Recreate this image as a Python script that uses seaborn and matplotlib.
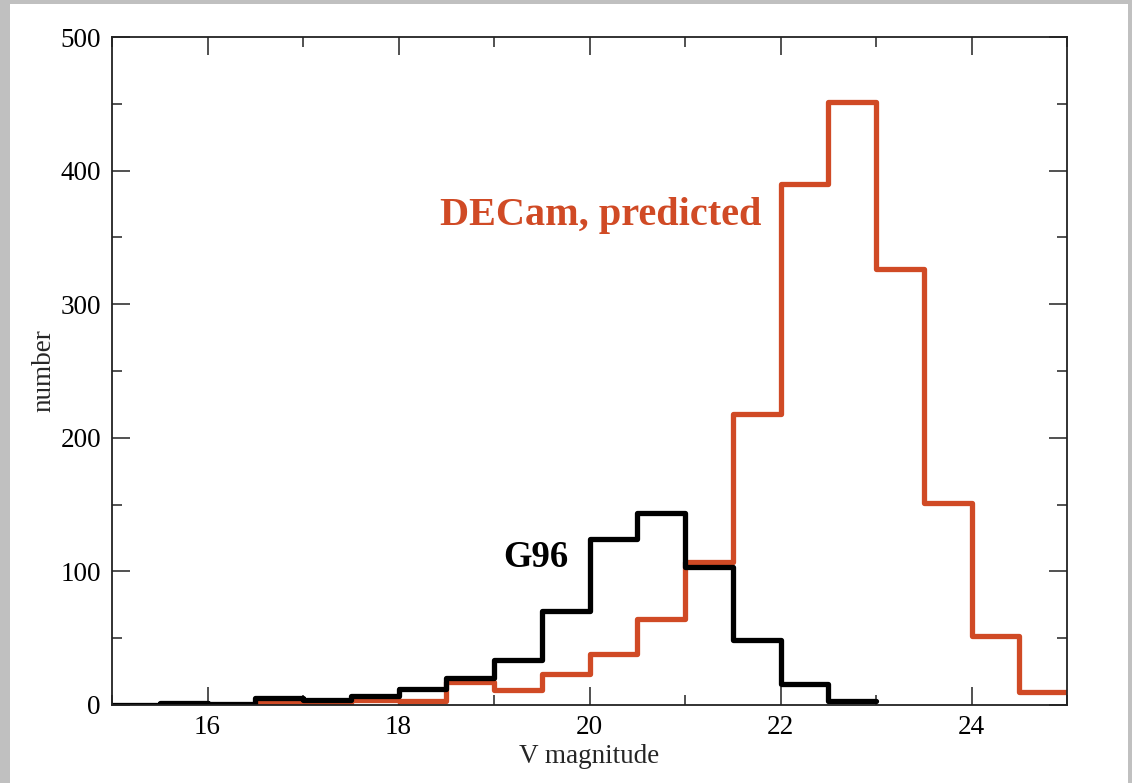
import numpy as np
import pandas as pd
import matplotlib
matplotlib.use("Agg")
import matplotlib.pyplot as plt
import seaborn as sns
from matplotlib.patches import Rectangle
from matplotlib.ticker import MultipleLocator

# --- data: counts per 0.5 mag bin ---
g96_edges = [15.0, 15.5, 16.0, 16.5, 17.0, 17.5, 18.0, 18.5, 19.0, 19.5,
             20.0, 20.5, 21.0, 21.5, 22.0, 22.5, 23.0]
g96_counts = [0, 1.5, 1, 5, 3.5, 7, 12, 20, 34, 70, 124, 144, 103, 49, 16, 3]

decam_edges = [16.0, 16.5, 17.0, 17.5, 18.0, 18.5, 19.0, 19.5, 20.0, 20.5,
               21.0, 21.5, 22.0, 22.5, 23.0, 23.5, 24.0, 24.5, 25.0]
decam_counts = [0, 1.5, 1, 4, 3, 17, 11, 23, 38, 64, 107, 218, 390, 451, 326, 151, 52, 10]

red = "#d04a25"

sns.set_theme(style="ticks")
plt.rcParams["font.family"] = ["Liberation Serif", "DejaVu Serif"]

fig = plt.figure(figsize=(11.32, 7.83), dpi=100)
fig.patch.set_facecolor("#c0c0c0")
fig.patches.append(Rectangle((10 / 1132, 0), (1128 - 10) / 1132, 1 - 4 / 783,
                             transform=fig.transFigure, facecolor="white",
                             edgecolor="none", zorder=-10))
ax = fig.add_axes([112 / 1132, 78 / 783, 955 / 1132, 668 / 783])
ax.set_facecolor("white")

g96_df = pd.DataFrame({"mag": [(a + b) / 2 for a, b in zip(g96_edges[:-1], g96_edges[1:])],
                       "n": g96_counts})
decam_df = pd.DataFrame({"mag": [(a + b) / 2 for a, b in zip(decam_edges[:-1], decam_edges[1:])],
                         "n": decam_counts})

sns.histplot(data=decam_df, x="mag", weights="n", bins=decam_edges, element="step",
             fill=False, color=red, linewidth=3.8, ax=ax)
sns.histplot(data=g96_df, x="mag", weights="n", bins=g96_edges, element="step",
             fill=False, color="black", linewidth=3.8, ax=ax)

ax.set_xlim(15, 25)
ax.set_ylim(0, 500)
ax.xaxis.set_major_locator(MultipleLocator(2))
ax.xaxis.set_minor_locator(MultipleLocator(1))
ax.yaxis.set_major_locator(MultipleLocator(100))
ax.yaxis.set_minor_locator(MultipleLocator(50))
ax.tick_params(which="both", direction="in", top=True, right=True, width=1.1, colors="#222222",
               labelcolor="black", labelsize=19.5)
ax.tick_params(which="major", length=13)
ax.tick_params(which="minor", length=7)
ax.tick_params(axis="y", pad=8)
ax.tick_params(axis="x", pad=7)
for s in ax.spines.values():
    s.set_linewidth(1.3)
    s.set_color("#222222")
ax.set_xticks([16, 18, 20, 22, 24])
ax.set_xticklabels(["16", "18", "20", "22", "24"])

ax.set_xlabel("V magnitude", fontsize=19.5, labelpad=3)
ax.set_ylabel("number", fontsize=19.5, labelpad=3)

ax.text(18.43, 359, "DECam, predicted", color=red, fontsize=29, fontweight="bold")
ax.text(19.1, 103, "G96", color="black", fontsize=26.5, fontweight="bold")

fig.savefig("out.png", dpi=100, facecolor=fig.get_facecolor())
